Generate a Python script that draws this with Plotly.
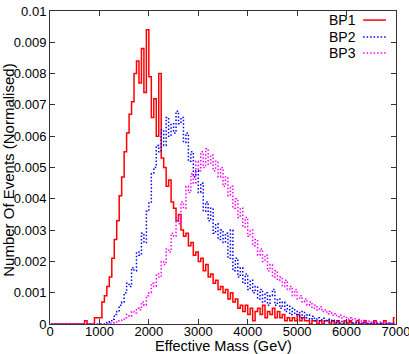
import plotly.graph_objects as go

# bin centres of the effective-mass histogram (50 GeV bins, 0-7000 GeV)
mass = [25 + 50 * i for i in range(140)]

bp1 = [
    0, 0, 0, 0, 0, 0, 0, 0, 0, 0,
    0, 0, 0, 0, 0.0001, 0, 0, 0, 0.0002, 0.0002,
    0.0002, 0.0007, 0.0009, 0.0012, 0.0015, 0.0021, 0.0027, 0.0033, 0.0041, 0.0047,
    0.0055, 0.0061, 0.0067, 0.0071, 0.0080, 0.0084, 0.0077, 0.0088, 0.0074, 0.0094,
    0.0079, 0.0066, 0.0072, 0.0060, 0.0080, 0.0053, 0.0050, 0.0044, 0.0046, 0.0039,
    0.0037, 0.0033, 0.0035, 0.0030, 0.0028, 0.0029, 0.0025, 0.0026, 0.0022, 0.0023,
    0.0020, 0.0021, 0.0017, 0.0019, 0.0015, 0.0016, 0.0013, 0.0014, 0.0011, 0.0012,
    0.0010, 0.0011, 0.0008, 0.0010, 0.0007, 0.0008, 0.0005, 0.0006, 0.0004, 0.0006,
    0.0003, 0.0005, 0.0001, 0.0004, 0.0005, 0.0003, 0.0006, 0.0002, 0.0004, 0.0003,
    0.0005, 0.0002, 0.0004, 0.0002, 0.0003, 0.0001, 0.0002, 0.0001, 0.0002, 0.0001,
    0.0003, 0.0001, 0.0002, 0.0001, 0.0001, 0, 0.0001, 0.0001, 0, 0.0001,
    0, 0.0001, 0.0001, 0, 0.0001, 0, 0.0001, 0, 0, 0.0001,
    0, 0.0001, 0, 0, 0.0001, 0, 0, 0.0001, 0, 0,
    0, 0.0001, 0, 0, 0, 0.0001, 0, 0, 0, 0.0002,
]

bp2 = [
    0, 0, 0, 0, 0, 0, 0, 0, 0, 0,
    0, 0, 0, 0, 0, 0, 0, 0, 0, 0,
    0, 0, 0.00003, 0.00005, 0.0001, 0.00015, 0.0003, 0.0004, 0.0006, 0.0007,
    0.0010, 0.0013, 0.0012, 0.0018, 0.0017, 0.0023, 0.0022, 0.0029, 0.0026, 0.0036,
    0.0039, 0.0048, 0.0050, 0.0057, 0.0055, 0.0062, 0.0057, 0.0066, 0.0060, 0.0064,
    0.0061, 0.0068, 0.0064, 0.0066, 0.0058, 0.0061, 0.0052, 0.0055, 0.0047, 0.0049,
    0.0042, 0.0045, 0.0036, 0.0039, 0.0033, 0.0037, 0.0029, 0.0032, 0.0027, 0.0030,
    0.0026, 0.0029, 0.0021, 0.0030, 0.0017, 0.0021, 0.0015, 0.0018, 0.0013, 0.0016,
    0.0011, 0.0014, 0.0010, 0.0012, 0.0008, 0.0011, 0.0007, 0.0010, 0.0006, 0.0009,
    0.0011, 0.0006, 0.0008, 0.0005, 0.0007, 0.0004, 0.0006, 0.0003, 0.0005, 0.0003,
    0.0004, 0.0002, 0.0004, 0.0002, 0.0003, 0.00015, 0.00025, 0.0001, 0.0002, 0.0001,
    0.00018, 0.00008, 0.00015, 0.00006, 0.00012, 0.00005, 0.0001, 0.00004, 0.00008, 0.00003,
    0.00005, 0.00006, 0.00004, 0.00005, 0.00003, 0.00004, 0.00003, 0.00004, 0.00002, 0.00003,
    0.00002, 0.00003, 0.00002, 0.00002, 0.00001, 0.00002, 0.00001, 0.00002, 0.00001, 0.00001,
]

bp3 = [
    0, 0, 0, 0, 0, 0, 0, 0, 0, 0,
    0, 0, 0, 0, 0, 0, 0, 0, 0, 0,
    0, 0, 0, 0, 0.00002, 0.00004, 0.00006, 0.0001, 0.00012, 0.00015,
    0.0002, 0.0003, 0.00025, 0.0004, 0.00035, 0.0005, 0.00045, 0.0007, 0.0006, 0.0009,
    0.0010, 0.0013, 0.0012, 0.0016, 0.0015, 0.0020, 0.0019, 0.0024, 0.0023, 0.0029,
    0.0028, 0.0034, 0.0032, 0.0039, 0.0037, 0.0044, 0.0042, 0.0048, 0.0045, 0.0052,
    0.0049, 0.0055, 0.0050, 0.0056, 0.0051, 0.0054, 0.0049, 0.0052, 0.0047, 0.0050,
    0.0044, 0.0047, 0.0041, 0.0044, 0.0037, 0.0040, 0.0034, 0.0037, 0.0031, 0.0034,
    0.0028, 0.0030, 0.0025, 0.0027, 0.0022, 0.0024, 0.0020, 0.0022, 0.0017, 0.0019,
    0.0015, 0.0017, 0.0014, 0.0015, 0.0012, 0.0014, 0.0011, 0.0012, 0.0009, 0.0011,
    0.0008, 0.0009, 0.0007, 0.0008, 0.0006, 0.0007, 0.0005, 0.0006, 0.00045, 0.00055,
    0.0004, 0.00045, 0.00033, 0.0004, 0.00028, 0.00033, 0.00023, 0.00028, 0.0002, 0.00024,
    0.00016, 0.0002, 0.00014, 0.00017, 0.00011, 0.00014, 0.00009, 0.00011, 0.00007, 0.00009,
    0.00006, 0.00008, 0.00005, 0.00006, 0.00004, 0.00005, 0.00003, 0.00004, 0.00002, 0.00003,
]

names = ['BP1', 'BP2', 'BP3']
colors = ['#ff0000', '#0000ff', '#ff00ff']
dashes = ['solid', '1.5px,2px', '1.5px,2px']
widths = [1.5, 1.5, 1.5]

x_ticks = [0, 1000, 2000, 3000, 4000, 5000, 6000, 7000]
y_ticks = [0, 0.001, 0.002, 0.003, 0.004, 0.005, 0.006, 0.007, 0.008, 0.009, 0.01]
y_labels = ['0', '0.001', '0.002', '0.003', '0.004', '0.005', '0.006', '0.007', '0.008', '0.009', '0.01']

fig = go.Figure()
for name, vals, c, d, w in zip(names, [bp1, bp2, bp3], colors, dashes, widths):
    fig.add_trace(go.Scatter(x=mass, y=vals, mode='lines', name=name, line_shape='hvh',
                             line=dict(color=c, dash=d, width=w), showlegend=False))

# gnuplot-style key: label on the left, line sample on the right
key_y = [0.971, 0.917, 0.866]
for name, c, d, ky in zip(names, colors, dashes, key_y):
    fig.add_annotation(x=0.89, y=ky, xref='paper', yref='paper', text=name, showarrow=False,
                       xanchor='right', yanchor='middle', font=dict(size=14, color='black'))
    fig.add_shape(type='line', xref='paper', yref='paper', x0=0.905, x1=0.971, y0=ky, y1=ky,
                  line=dict(color=c, dash=d, width=1.5))

# axis titles placed by hand, as in the gnuplot original
fig.add_annotation(x=0.5, y=-0.069, xref='paper', yref='paper', text='Effective Mass (GeV)',
                   showarrow=False, xanchor='center', yanchor='middle',
                   font=dict(size=14.5, color='black'))
fig.add_annotation(x=-0.121, y=0.49, xref='paper', yref='paper', text='Number Of Events (Normalised)',
                   showarrow=False, textangle=-90, xanchor='center', yanchor='middle',
                   font=dict(size=15, color='black'))

axis_style = dict(showline=True, linecolor='#333333', linewidth=1, mirror='ticks',
                  ticks='inside', ticklen=5, tickcolor='#333333', showgrid=False,
                  zeroline=False, automargin=False, ticklabeloverflow='allow',
                  tickfont=dict(size=13, color='black'))

fig.update_xaxes(range=[0, 7000.5], tickvals=x_ticks, ticklabelstandoff=-5, **axis_style)
fig.update_yaxes(range=[0, 0.01], tickvals=y_ticks, ticktext=y_labels, **axis_style)

fig.update_layout(width=409, height=354, margin=dict(l=50, r=13, t=11, b=30),
                  plot_bgcolor='white', paper_bgcolor='white',
                  font=dict(family='Liberation Sans, Arial, sans-serif', color='black'))

# drop the default page margin so the figure sits at the window's top-left corner
fig.write_html('out.html', config={'displayModeBar': False},
               post_script="document.body.style.margin='0';")
